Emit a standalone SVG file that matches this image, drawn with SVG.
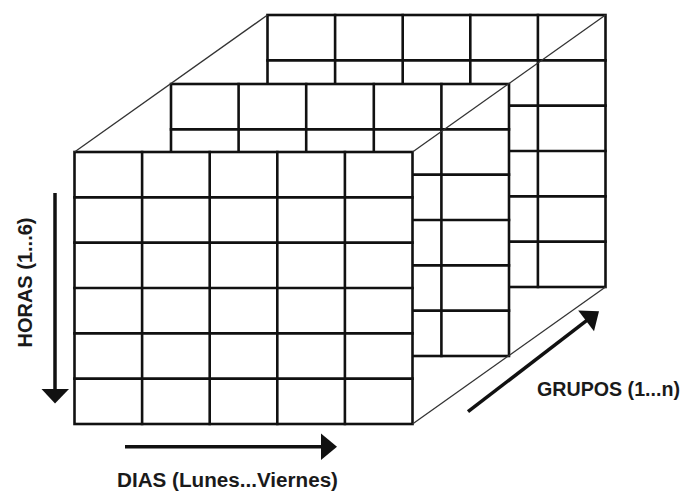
<svg xmlns="http://www.w3.org/2000/svg" xmlns:xlink="http://www.w3.org/1999/xlink" width="683" height="492" viewBox="0 0 683 492">
  <style>
    .grid { fill: #fff; stroke: #111; stroke-width: 2.6; stroke-linecap: square; }
    .edge { stroke: #333; stroke-width: 1.3; fill: none; }
    .axis { stroke: #111; stroke-width: 3.5; fill: none; }
    .head { fill: #111; stroke: none; }
    .lbl { font-family: "Liberation Sans", Arial, sans-serif; font-weight: bold; font-size: 20px; fill: #1a1a1a; }
  </style>
  <defs>
    <g id="gridShape">
      <rect class="grid" x="0" y="0" width="338" height="272"/>
      <path class="grid" fill="none" d="M67.6 0V272 M135.2 0V272 M202.8 0V272 M270.4 0V272 M0 45.33H338 M0 90.67H338 M0 136H338 M0 181.33H338 M0 226.67H338"/>
    </g>
  </defs>

  <g id="grupo-atras">
    <use xlink:href="#gridShape" href="#gridShape" transform="translate(267.5,15)"/>
  </g>
  <g id="grupo-medio">
    <use xlink:href="#gridShape" href="#gridShape" transform="translate(171,84)"/>
  </g>
  <g id="grupo-frente">
    <use xlink:href="#gridShape" href="#gridShape" transform="translate(74.5,152)"/>
  </g>

  <g id="connectors">
    <line class="edge" x1="74.5" y1="152" x2="267.5" y2="15"/>
    <line class="edge" x1="412.5" y1="152" x2="605.5" y2="15"/>
    <line class="edge" x1="412.5" y1="424" x2="605.5" y2="287"/>

    <line class="axis" x1="55" y1="193" x2="55" y2="391"/>
    <polygon class="head" points="41.5,389 69,389 55,403.5"/>

    <line class="axis" x1="125" y1="446.7" x2="323" y2="446.7"/>
    <polygon class="head" points="321,433.5 321,460 337,446.7"/>

    <line class="axis" x1="468" y1="411.7" x2="587.5" y2="319.8"/>
    <polygon class="head" points="578.2,310.6 594,331.2 599,311.2"/>
  </g>

  <g id="labels">
    <text class="lbl" transform="translate(32,282.5) rotate(-90)" text-anchor="middle">HORAS (1...6)</text>
    <text class="lbl" x="117" y="486.5" textLength="221" lengthAdjust="spacingAndGlyphs">DIAS (Lunes...Viernes)</text>
    <text class="lbl" x="537" y="396" textLength="143" lengthAdjust="spacingAndGlyphs">GRUPOS (1...n)</text>
  </g>
</svg>
